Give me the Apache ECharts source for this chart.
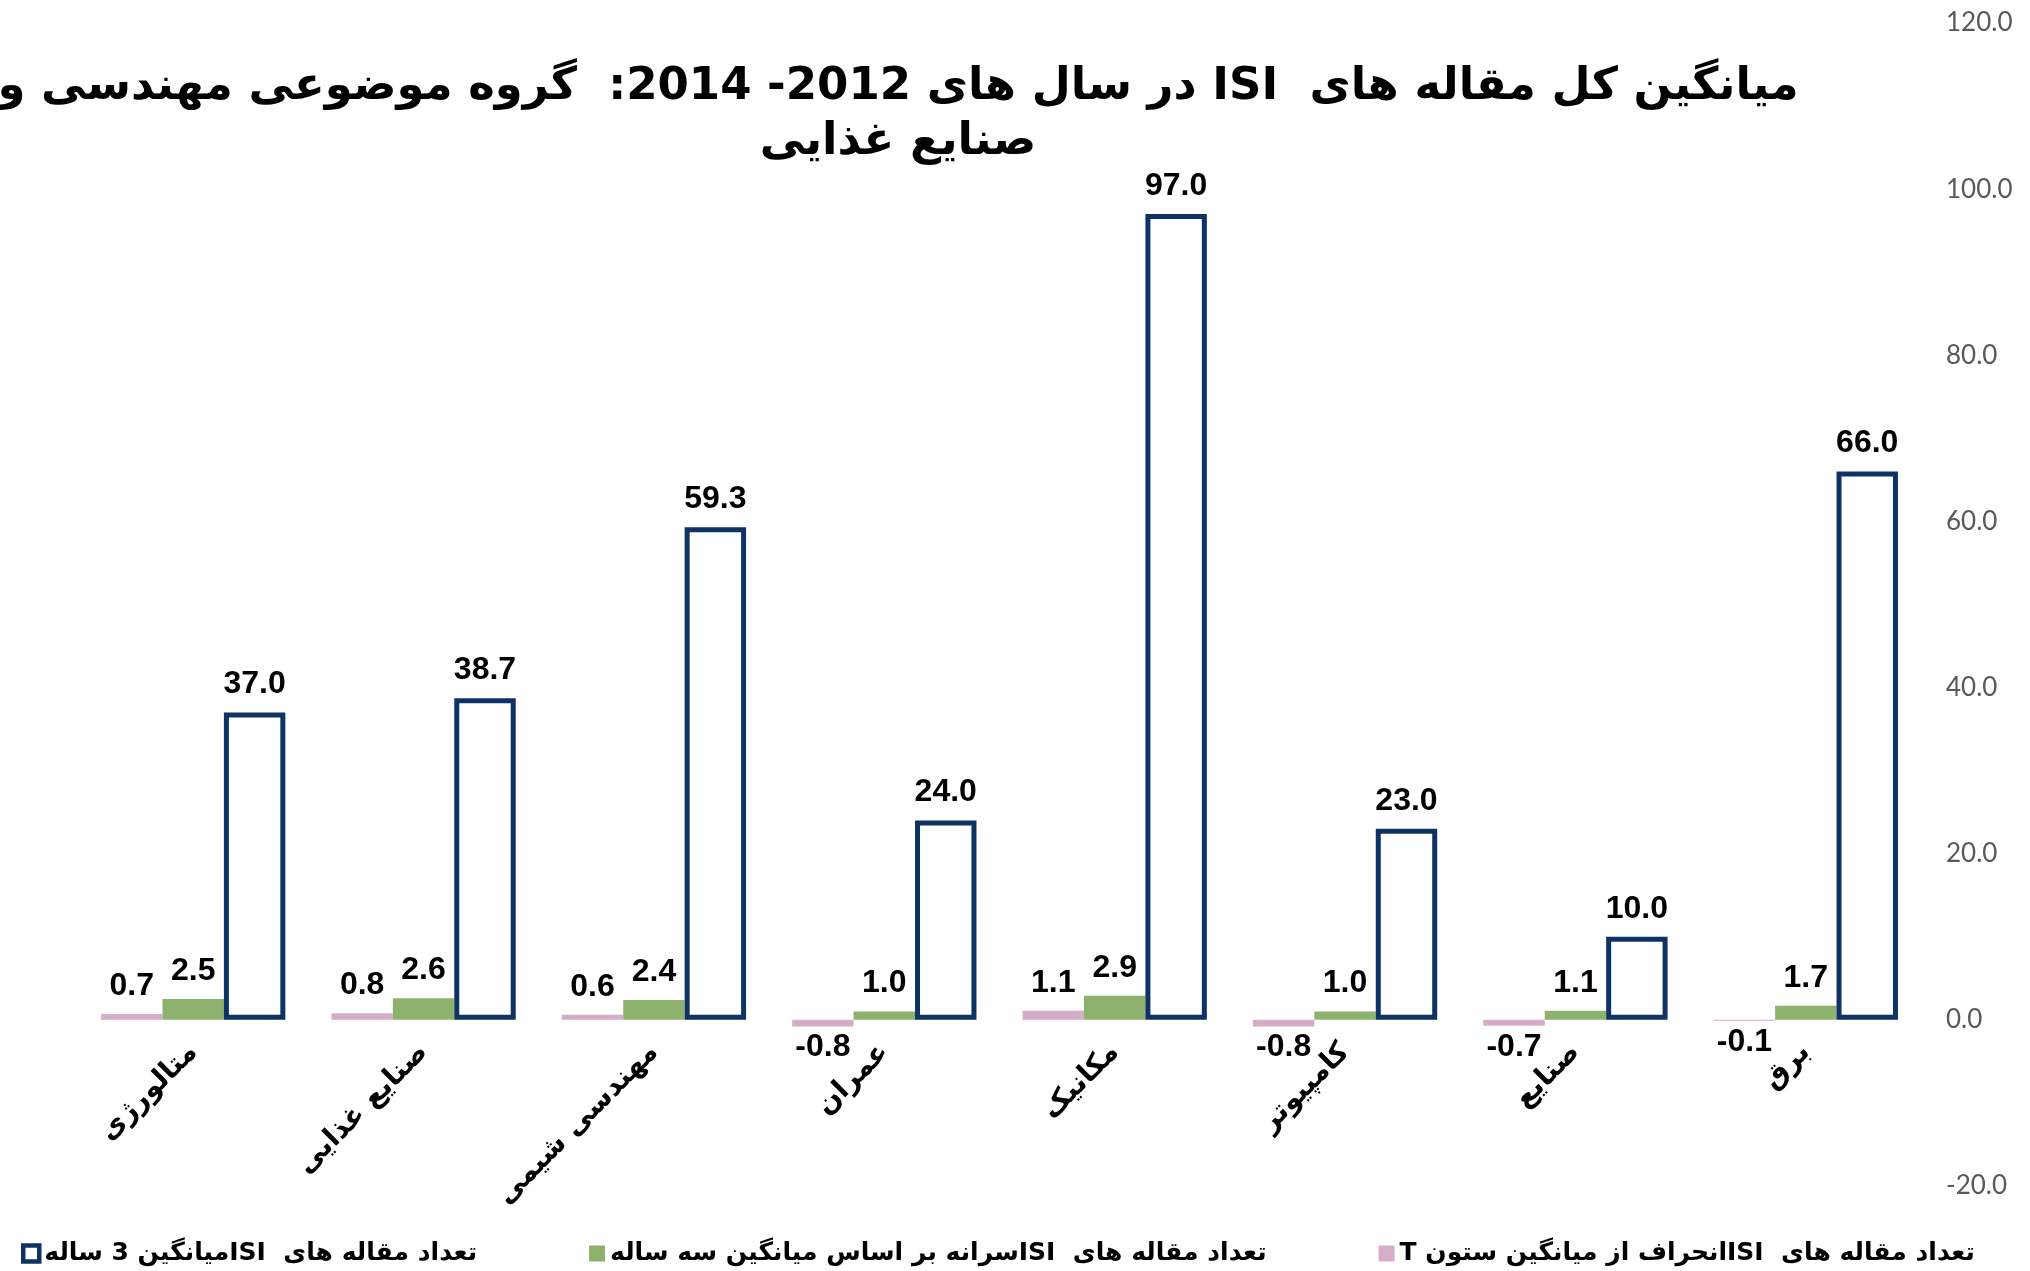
<!DOCTYPE html>
<html>
<head>
<meta charset="utf-8">
<script src="https://cdn.jsdelivr.net/npm/echarts@6/dist/echarts.min.js"></script>
<style>
  html, body { margin: 0; padding: 0; background: #fff; }
  #chart { width: 2030px; height: 1271px; }
</style>
</head>
<body>
<div id="chart"></div>
<script>
const categories = ['متالورژی', 'صنایع غذایی', 'مهندسی شیمی', 'عمران', 'مکانیک', 'کامپیوتر', 'صنایع', 'برق'];
const deviation = [0.7, 0.8, 0.6, -0.8, 1.1, -0.8, -0.7, -0.1];
const perCapita = [2.5, 2.6, 2.4, 1.0, 2.9, 1.0, 1.1, 1.7];
const avg3 = [37.0, 38.7, 59.3, 24.0, 97.0, 23.0, 10.0, 66.0];

const seriesNames = [
  'تعداد مقاله های  ISIانحراف از میانگین ستون T',
  'تعداد مقاله های  ISIسرانه بر اساس میانگین سه ساله',
  'تعداد مقاله های  ISIمیانگین 3 ساله'
];
const titleLines = [
  'میانگین کل مقاله های  ISI در سال های 2012- 2014:  گروه موضوعی مهندسی و',
  'صنایع غذایی'
];

// force right-to-left run for Persian strings
const rtl = s => '\u202B' + s + '\u202C';
const persianFont = "'DejaVu Sans', sans-serif";
const numFont = "'Liberation Sans', Arial, sans-serif";

const valueLabel = {
  show: true,
  position: 'top',
  distance: 12,
  color: '#000',
  fontWeight: 'bold',
  fontSize: 32,
  fontFamily: numFont,
  formatter: p => p.value.toFixed(1)
};

// negative bars get their label underneath
const withLabelSide = arr => arr.map(v => v < 0
  ? {value: v, label: {position: 'bottom', distance: 5}}
  : v);

const chart = echarts.init(document.getElementById('chart'));
chart.setOption({
  animation: false,
  title: {
    text: titleLines.map(rtl).join('\n'),
    left: 893,
    top: 55,
    textAlign: 'center',
    textStyle: {
      fontFamily: persianFont,
      fontWeight: 'bold',
      fontSize: 45,
      lineHeight: 55,
      color: '#000'
    }
  },
  legend: {
    data: [
      {name: seriesNames[2], itemStyle: {borderWidth: 4.5}},
      {name: seriesNames[1]},
      {name: seriesNames[0]}
    ],
    left: 16,
    bottom: 0,
    itemGap: 112,
    itemWidth: 16,
    itemHeight: 16,
    icon: 'rect',
    formatter: name => rtl(name),
    textStyle: {
      fontFamily: persianFont,
      fontWeight: 'bold',
      fontSize: 25,
      color: '#000'
    }
  },
  grid: {
    left: 78,
    right: 109,
    top: 23,
    bottom: 85,
    outerBoundsMode: 'none',
    containLabel: false
  },
  xAxis: {
    type: 'category',
    data: categories,
    // sit the labels on the zero line (grid height 1163, 20 of 140 units below zero)
    offset: -166,
    axisTick: {show: false},
    axisLine: {show: false, onZero: false},
    axisLabel: {
      rotate: 45,
      interval: 0,
      margin: 28,
      color: '#000',
      fontWeight: 'bold',
      fontSize: 28,
      fontFamily: persianFont,
      formatter: v => rtl(v)
    }
  },
  yAxis: {
    type: 'value',
    position: 'right',
    min: -20,
    max: 120,
    interval: 20,
    splitLine: {show: false},
    axisLine: {show: false},
    axisTick: {show: false},
    axisLabel: {
      margin: 25,
      color: '#595959',
      fontSize: 26,
      fontFamily: "Lato, 'Open Sans', sans-serif",
      formatter: v => v.toFixed(1)
    }
  },
  series: [
    {
      name: seriesNames[0],
      type: 'bar',
      barGap: '0%',
      barCategoryGap: '20%',
      itemStyle: {color: '#D5ADC8'},
      label: valueLabel,
      data: withLabelSide(deviation)
    },
    {
      name: seriesNames[1],
      type: 'bar',
      itemStyle: {color: '#8DB26E'},
      label: valueLabel,
      data: withLabelSide(perCapita)
    },
    {
      name: seriesNames[2],
      type: 'bar',
      itemStyle: {color: '#FFFFFF', borderColor: '#0E3263', borderWidth: 5},
      label: valueLabel,
      data: withLabelSide(avg3)
    }
  ]
});
</script>
</body>
</html>
